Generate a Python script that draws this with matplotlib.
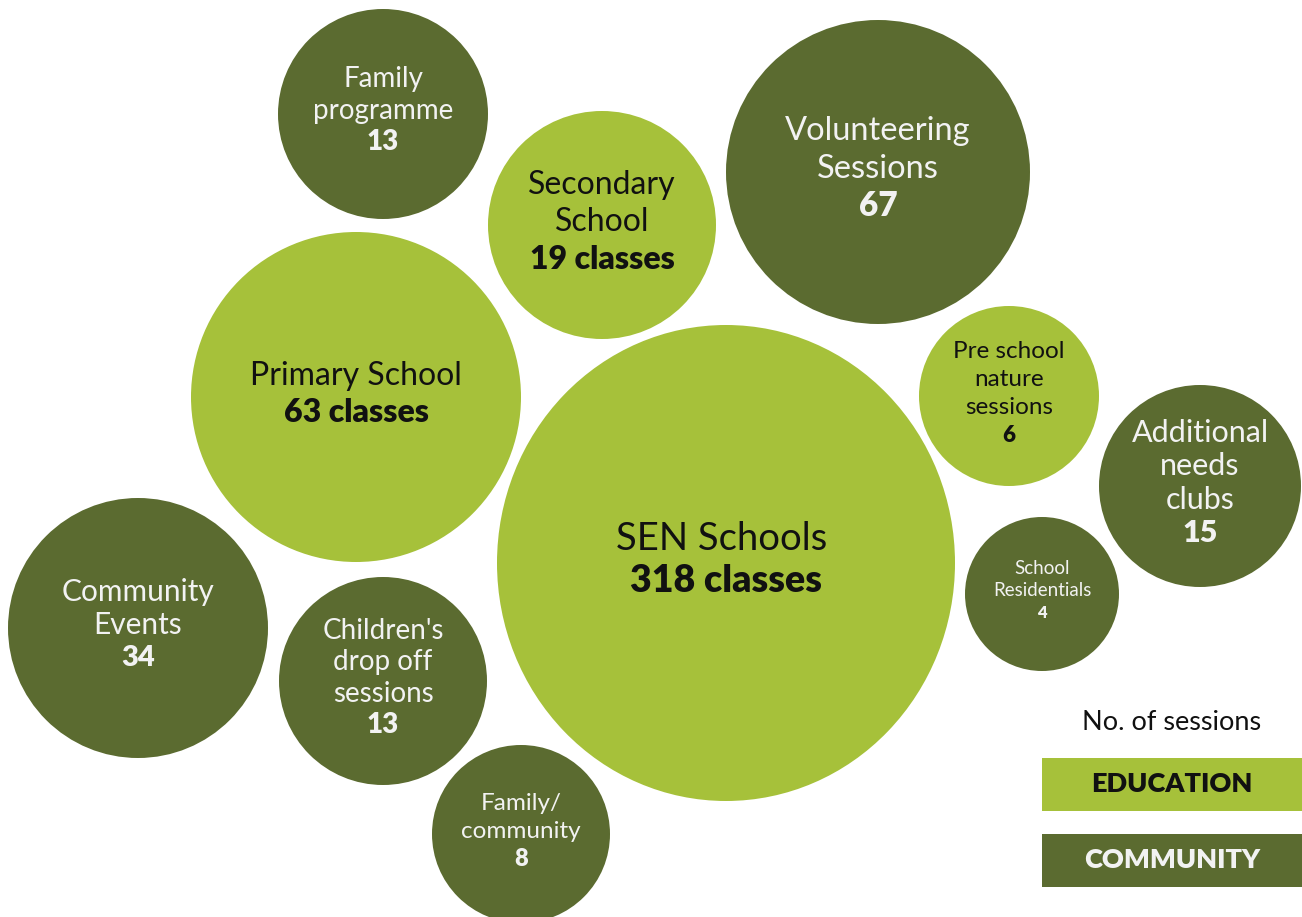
import matplotlib
matplotlib.use("Agg")
import matplotlib.pyplot as plt
from matplotlib.patches import Ellipse, Rectangle
from matplotlib import font_manager

# --- data -------------------------------------------------------------
labels = [
    "SEN Schools", "Primary School", "Secondary\nSchool",
    "Pre school\nnature\nsessions", "Volunteering\nSessions",
    "Family\nprogramme", "Community\nEvents", "Children's\ndrop off\nsessions",
    "Family/\ncommunity", "Additional\nneeds\nclubs", "School\nResidentials",
]
values = [318, 63, 19, 6, 67, 13, 34, 13, 8, 15, 4]
units = ["classes", "classes", "classes", "", "", "", "", "", "", "", ""]
groups = ["EDUCATION", "EDUCATION", "EDUCATION", "EDUCATION",
          "COMMUNITY", "COMMUNITY", "COMMUNITY", "COMMUNITY",
          "COMMUNITY", "COMMUNITY", "COMMUNITY"]
legend_title = "No. of sessions"
legend_groups = ["EDUCATION", "COMMUNITY"]

# --- layout (pixel space) ---------------------------------------------
centers = [(726, 563), (356, 397), (602, 225), (1009, 396), (878, 172),
           (383, 114), (138, 628), (383, 681), (521, 834), (1200, 486),
           (1042, 594)]
# horizontal / vertical radii
radii = [(229, 238), (165, 165), (114, 114), (90, 90), (152, 152),
         (105, 105), (130, 130), (104, 104), (89, 89), (101, 101), (77, 77)]
# (label size, value size, line spacing in px, label x-offset)
text_style = [(27.5, 27, 43, -4), (23, 23, 36, 0), (23, 23, 37.5, 0),
              (17.5, 16, 28, 0), (23.5, 24, 37.5, 0), (20, 20, 31.5, 0),
              (21.5, 21, 33.5, 0), (20, 20, 31.3, 0), (17.5, 17, 27.5, 0),
              (22, 22, 33.5, 0), (13.5, 12, 22, 0)]
text_shift = -3

colors = {"EDUCATION": "#a6c13a", "COMMUNITY": "#5b6b30"}
text_colors = {"EDUCATION": "#111111", "COMMUNITY": "#f2f2f2"}

avail = {f.name for f in font_manager.fontManager.ttflist}
FONT = "Lato" if "Lato" in avail else "DejaVu Sans"

W, H = 1302, 917
fig = plt.figure(figsize=(W / 100, H / 100), dpi=100)
ax = fig.add_axes([0, 0, 1, 1])
ax.set_xlim(0, W)
ax.set_ylim(H, 0)
ax.set_aspect("equal")
ax.axis("off")

for lab, val, unit, grp, (cx, cy), (rx, ry), (fs_l, fs_v, dy, dx) in zip(
        labels, values, units, groups, centers, radii, text_style):
    ax.add_patch(Ellipse((cx, cy), 2 * rx, 2 * ry, facecolor=colors[grp],
                         edgecolor="none"))
    lines = lab.split("\n")
    n = len(lines) + 1
    y0 = cy - (n - 1) * dy / 2 + text_shift
    tc = text_colors[grp]
    for i, ln in enumerate(lines):
        ax.text(cx + dx, y0 + i * dy, ln, ha="center", va="center",
                fontsize=fs_l, color=tc, family=FONT, fontweight="normal")
    vtxt = f"{val} {unit}".strip()
    ax.text(cx, y0 + len(lines) * dy, vtxt, ha="center", va="center",
            fontsize=fs_v, color=tc, family=FONT, fontweight="heavy")

# legend
ax.text(1172, 722, legend_title, ha="center", va="center", fontsize=19.5,
        color="#111111", family=FONT)
box_y = [758, 834]
for grp, by in zip(legend_groups, box_y):
    ax.add_patch(Rectangle((1042, by), 260, 53, facecolor=colors[grp],
                           edgecolor="none"))
    ax.text(1172, by + 26.5, grp, ha="center", va="center", fontsize=19.5,
            fontweight="heavy", color=text_colors[grp], family=FONT)

fig.savefig("out.png", dpi=100)
